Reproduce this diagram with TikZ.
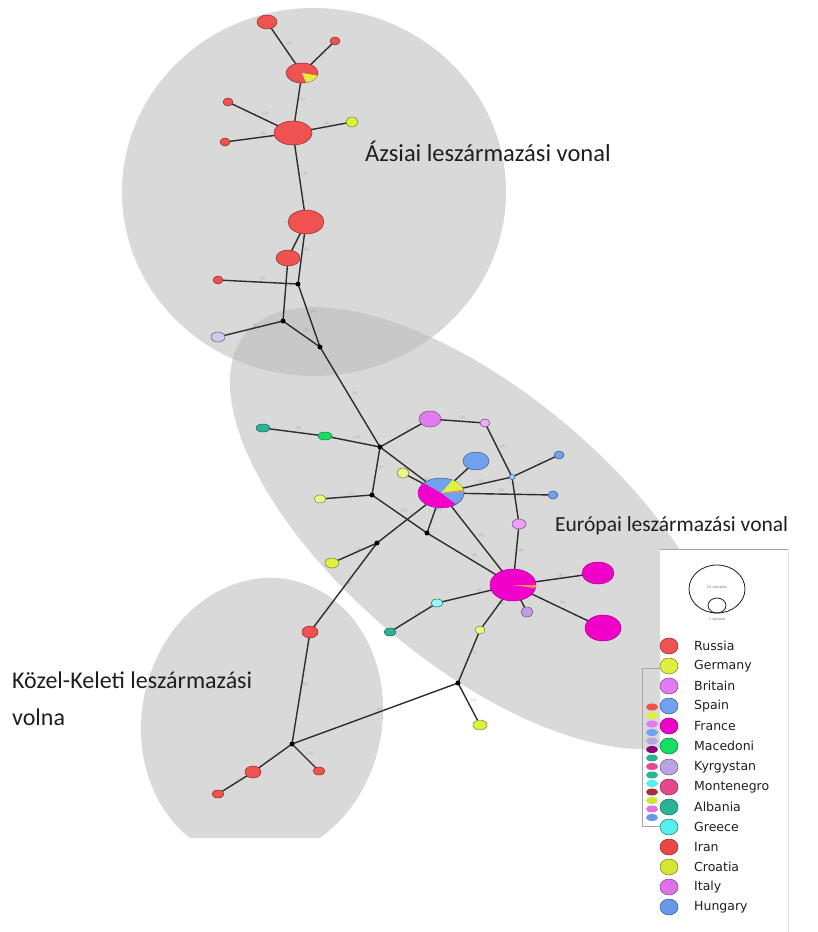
\documentclass[tikz,border=0pt]{standalone}
\usepackage{fontspec}
\newfontfamily\regfont{Carlito}
\newfontfamily\legfont{DejaVu Sans}
\definecolor{russia}{RGB}{240,82,82}
\definecolor{germany}{RGB}{222,240,64}
\definecolor{britain}{RGB}{226,122,240}
\definecolor{spain}{RGB}{112,162,240}
\definecolor{france}{RGB}{240,0,200}
\definecolor{macedoni}{RGB}{20,222,100}
\definecolor{kyrgystan}{RGB}{184,164,226}
\definecolor{montenegro}{RGB}{230,72,140}
\definecolor{albania}{RGB}{42,180,150}
\definecolor{greece}{RGB}{84,240,240}
\definecolor{iran}{RGB}{236,70,70}
\definecolor{croatia}{RGB}{212,230,52}
\definecolor{italy}{RGB}{222,112,232}
\definecolor{hungary}{RGB}{104,152,232}
\definecolor{slice}{RGB}{240,140,90}
\definecolor{regiongray}{RGB}{186,186,186}
\definecolor{edgegray}{RGB}{45,45,45}
\definecolor{labelgray}{RGB}{120,120,120}
\definecolor{textgray}{RGB}{30,30,30}
\begin{document}
\begin{tikzpicture}[x=1pt, y=-1pt, line join=round, line cap=round,
		region/.style={fill=regiongray, fill opacity=0.55},
		edge/.style={draw=edgegray, line width=1.4pt},
		hap/.style={line width=0.5pt},
		lb/.style={font=\fontsize{3.5}{4}\selectfont, text=labelgray, midway, above right, inner sep=1pt},
		reg/.style={font=\regfont\fontsize{24}{28}\selectfont, text=textgray, anchor=base west, inner sep=0pt},
		leg/.style={font=\legfont\fontsize{12.5}{14}\selectfont, text=textgray, anchor=west, inner sep=0pt},
		tiny/.style={font=\legfont\fontsize{3.5}{4}\selectfont, text=labelgray, inner sep=0pt}]
				\useasboundingbox (0,0) rectangle (818,932);
				% lineage regions
				\begin{scope}
					\clip (0,0) rectangle (818,837);
					\fill[region] (314,192) ellipse (192 and 184);
					\fill[region, rotate around={-40:(478,528)}] (478,528) ellipse (303 and 136);
					\fill[region, rotate around={-12:(262,719)}] (262,719) ellipse (120 and 142);
				\end{scope}
				
				\path
				% asian part
				(267,22) coordinate (R1)
				(335,41) coordinate (R2)
				(302,73) coordinate (R3)
				(228,102) coordinate (R4)
				(225,142) coordinate (R5)
				(293,133) coordinate (R6)
				(352,122) coordinate (Y1)
				(306,222) coordinate (R7)
				(288,258) coordinate (R8)
				(218,280) coordinate (R9)
				(298,284) coordinate (M1)
				(283,321) coordinate (M2)
				(320,347) coordinate (M3)
				(218,337) coordinate (K1)
				% european part
				(380,447) coordinate (M4)
				(263,428) coordinate (G1)
				(325,436) coordinate (G2)
				(430,419) coordinate (B1)
				(485,423) coordinate (B2)
				(512,477) coordinate (Sj)
				(559,455) coordinate (S2)
				(553,495) coordinate (S3)
				(519,524) coordinate (B3)
				(476,461) coordinate (S1)
				(441,493) coordinate (P1)
				(403,473) coordinate (Y2)
				(372,495) coordinate (M5)
				(320,499) coordinate (Y3)
				(427,533) coordinate (M6)
				(377,543) coordinate (M7)
				(332,563) coordinate (Y4)
				(513,585) coordinate (F2)
				(598,573) coordinate (F3)
				(603,628) coordinate (F4)
				(527,612) coordinate (K2)
				(437,603) coordinate (C1)
				(390,632) coordinate (A1)
				(480,630) coordinate (Y5)
				(458,683) coordinate (M8)
				(480,725) coordinate (Y6)
				(310,632) coordinate (R10)
				% near eastern part
				(292,744) coordinate (M9)
				(253,772) coordinate (R11)
				(218,794) coordinate (R12)
				(319,771) coordinate (R13)
				;
				
				\draw[edge] (R1)--node[lb]{(1)}(R3) (R2)--node[lb]{(1)}(R3) (R3)--node[lb]{(1)}(R6)
					(R4)--node[lb]{(1)}(R6) (R5)--node[lb]{(1)}(R6) (Y1)--node[lb]{(1)}(R6)
					(R6)--node[lb]{(1)}(R7) (R7)--(R8) (R7)--node[lb]{(1)}(M1) (R8)--node[lb]{(1)}(M2)
					(M1)--node[lb]{(1)}(R9) (M1)--node[lb]{(1)}(M3) (M2)--node[lb]{(1)}(M3)
					(M2)--node[lb]{(1)}(K1) (M3)--node[lb]{(1)}(M4);
				\draw[edge] (M4)--node[lb]{(1)}(G2)--node[lb]{(1)}(G1) (M4)--node[lb]{(1)}(B1)--node[lb]{(1)}(B2)
					(B2)--node[lb]{(1)}(Sj)--(B3)--node[lb]{(1)}(F2) (M4)--node[lb]{(1)}(M5) (M4)--(P1)--node[lb]{(1)}(F2)
					(P1)--(S1) (P1)--node[lb]{(1)}(Y2) (P1)--node[lb]{(1)}(Sj)--node[lb]{(1)}(S2) (P1)--node[lb]{(1)}(S3)
					(M5)--node[lb]{(1)}(Y3) (M5)--node[lb]{(1)}(M6)--node[lb]{(1)}(F2) (M6)--node[lb]{(1)}(P1)
					(P1)--node[lb]{(1)}(M7)--node[lb]{(1)}(Y4) (M7)--node[lb]{(1)}(R10)
					(F2)--node[lb]{(1)}(F3) (F2)--node[lb]{(1)}(F4) (F2)--(K2) (F2)--node[lb]{(1)}(C1)--node[lb]{(1)}(A1)
					(F2)--node[lb]{(1)}(Y5)--node[lb]{(1)}(M8)--node[lb]{(1)}(Y6) (M8)--node[lb]{(1)}(M9);
				\draw[edge] (R10)--node[lb]{(1)}(M9) (M9)--node[lb]{(1)}(R11)--node[lb]{(1)}(R12) (M9)--node[lb]{(1)}(R13);
				
				% haplotypes
				\filldraw[hap, fill=russia, draw=russia!55!black] (R1) ellipse (10 and 7);
				\filldraw[hap, fill=russia, draw=russia!55!black] (R2) ellipse (5 and 4);
				\filldraw[hap, fill=russia, draw=russia!55!black] (R3) ellipse (16 and 10);
				\fill[germany] (R3) -- ++(15:16 and 10) arc[start angle=15, end angle=75, x radius=16, y radius=10] -- cycle;
				\filldraw[hap, fill=russia, draw=russia!55!black] (R4) ellipse (5 and 4);
				\filldraw[hap, fill=russia, draw=russia!55!black] (R5) ellipse (5 and 4);
				\filldraw[hap, fill=russia, draw=russia!55!black] (R6) ellipse (19 and 12);
				\filldraw[hap, fill=germany, draw=germany!55!black] (Y1) ellipse (6 and 5);
				\filldraw[hap, fill=russia, draw=russia!55!black] (R7) ellipse (18 and 12);
				\filldraw[hap, fill=russia, draw=russia!55!black] (R8) ellipse (12 and 8);
				\filldraw[hap, fill=russia, draw=russia!55!black] (R9) ellipse (5 and 4);
				\filldraw[hap, fill=kyrgystan!60!white, draw=kyrgystan!55!black] (K1) ellipse (7 and 5);
				
				\filldraw[hap, fill=albania, draw=albania!55!black] (G1) ellipse (7 and 4);
				\filldraw[hap, fill=macedoni, draw=macedoni!55!black] (G2) ellipse (7 and 4);
				\filldraw[hap, fill=britain, draw=britain!55!black] (B1) ellipse (11 and 8);
				\filldraw[hap, fill=britain!60!white, draw=britain!55!black] (B2) ellipse (5 and 4);
				\filldraw[hap, fill=spain!60!white, draw=spain!55!black] (Sj) ellipse (3 and 2.5);
				\filldraw[hap, fill=spain, draw=spain!55!black] (S2) ellipse (5 and 4);
				\filldraw[hap, fill=spain, draw=spain!55!black] (S3) ellipse (5 and 4);
				\filldraw[hap, fill=britain!70!white, draw=britain!55!black] (B3) ellipse (7 and 5);
				\filldraw[hap, fill=spain, draw=spain!55!black] (S1) ellipse (13 and 9);
				\filldraw[hap, fill=spain, draw=spain!55!black] (P1) ellipse (23 and 15);
				\fill[france] (P1) -- ++(49:23 and 15) arc[start angle=49, end angle=221, x radius=23, y radius=15] -- cycle;
				\fill[germany] (P1) -- ++(300:23 and 15) arc[start angle=300, end angle=348, x radius=23, y radius=15] -- cycle;
				\fill[slice] (P1) -- ++(348:23 and 15) arc[start angle=348, end angle=356, x radius=23, y radius=15] -- cycle;
				\filldraw[hap, fill=germany!60!white, draw=germany!55!black] (Y2) ellipse (6 and 5);
				\filldraw[hap, fill=germany!60!white, draw=germany!55!black] (Y3) ellipse (6 and 4);
				\filldraw[hap, fill=germany, draw=germany!55!black] (Y4) ellipse (7 and 5);
				\filldraw[hap, fill=france, draw=france!70!black] (F2) ellipse (23 and 16);
				\fill[slice] (F2) -- ++(2:23 and 16) arc[start angle=2, end angle=12, x radius=23, y radius=16] -- cycle;
				\fill[germany] (F2) -- ++(0:23 and 16) arc[start angle=0, end angle=2, x radius=23, y radius=16] -- cycle;
				\filldraw[hap, fill=france, draw=france!70!black] (F3) ellipse (16 and 11);
				\filldraw[hap, fill=france, draw=france!70!black] (F4) ellipse (18 and 13);
				\filldraw[hap, fill=kyrgystan!80!britain, draw=kyrgystan!55!black] (K2) ellipse (6 and 5);
				\filldraw[hap, fill=greece!60!white, draw=greece!45!black] (C1) ellipse (6 and 4);
				\filldraw[hap, fill=albania, draw=albania!55!black] (A1) ellipse (6 and 4);
				\filldraw[hap, fill=germany!60!white, draw=germany!55!black] (Y5) ellipse (5 and 4);
				\filldraw[hap, fill=germany, draw=germany!55!black] (Y6) ellipse (7 and 5);
				\filldraw[hap, fill=russia, draw=russia!55!black] (R10) ellipse (8 and 6);
				
				\filldraw[hap, fill=russia, draw=russia!55!black] (R11) ellipse (8 and 6);
				\filldraw[hap, fill=russia, draw=russia!55!black] (R12) ellipse (6 and 4);
				\filldraw[hap, fill=russia, draw=russia!55!black] (R13) ellipse (6 and 4);
				
				% median vectors
				\fill (M1) circle (2.5); 
				\fill (M2) circle (2.5); 
				\fill (M3) circle (2.5); 
				\fill (M4) circle (2.5); 
				\fill (M5) circle (2.5); 
				\fill (M6) circle (2.5); 
				\fill (M7) circle (2.5); 
				\fill (M8) circle (2.5); 
				\fill (M9) circle (2.5); 
				
				\node[reg, font=\regfont\fontsize{24.5}{28}\selectfont] (asia) at (365,161) {Ázsiai leszármazási vonal};
				\node[reg, font=\regfont\fontsize{21.5}{26}\selectfont] (europe) at (555,531) {Európai leszármazási vonal};
				\node[reg] (neareast) at (12,688) {Közel-Keleti leszármazási};
				\node[reg] (volna) at (12,725) {volna};
				
				% legend
				\draw[gray!70] (660,668) -- (642,668) -- (642,826) -- (660,826);
				\fill[russia] (652,707) ellipse (6 and 3.5);
				\fill[germany] (652,715.5) ellipse (6 and 3.5);
				\fill[britain] (652,724) ellipse (6 and 3.5);
				\fill[spain] (652,732.5) ellipse (6 and 3.5);
				\fill[kyrgystan] (652,741) ellipse (6 and 3.5);
				\fill[france!60!black] (652,749.5) ellipse (6 and 3.5);
				\fill[albania] (652,758) ellipse (6 and 3.5);
				\fill[montenegro] (652,766.5) ellipse (6 and 3.5);
				\fill[albania] (652,775) ellipse (6 and 3.5);
				\fill[greece] (652,783.5) ellipse (6 and 3.5);
				\fill[iran!70!black] (652,792) ellipse (6 and 3.5);
				\fill[croatia] (652,800.5) ellipse (6 and 3.5);
				\fill[italy] (652,809) ellipse (6 and 3.5);
				\fill[hungary] (652,817.5) ellipse (6 and 3.5);
				
				\fill[white] (660,549) rectangle (818,932);
				\draw[gray!70, line width=0.8pt] (660,549) -- (788,549);
				\draw[gray!25] (788,549) -- (788,932);
				\draw[textgray, line width=0.8pt] (717,589) ellipse (28 and 24);
				\draw[textgray, line width=0.8pt] (717,605.5) ellipse (9 and 7.5);
				\node[tiny] (ten) at (717,588) {10 samples};
				\node[tiny] (one) at (717,620) {1 sample};
				
				\filldraw[hap, fill=russia, draw=russia!55!black] (669,646) ellipse (9 and 8);
				\node[leg] (lrussia) at (694,646) {Russia};
				\filldraw[hap, fill=germany, draw=germany!55!black] (669,666) ellipse (9 and 8);
				\node[leg] (lgermany) at (694,666) {Germany};
				\filldraw[hap, fill=britain, draw=britain!55!black] (669,686) ellipse (9 and 8);
				\node[leg] (lbritain) at (694,686) {Britain};
				\filldraw[hap, fill=spain, draw=spain!55!black] (669,706) ellipse (9 and 8);
				\node[leg] (lspain) at (694,706) {Spain};
				\filldraw[hap, fill=france, draw=france!55!black] (669,726) ellipse (9 and 8);
				\node[leg] (lfrance) at (694,726) {France};
				\filldraw[hap, fill=macedoni, draw=macedoni!55!black] (669,746) ellipse (9 and 8);
				\node[leg] (lmacedoni) at (694,746) {Macedoni};
				\filldraw[hap, fill=kyrgystan, draw=kyrgystan!55!black] (669,767) ellipse (9 and 8);
				\node[leg] (lkyrgystan) at (694,767) {Kyrgystan};
				\filldraw[hap, fill=montenegro, draw=montenegro!55!black] (669,787) ellipse (9 and 8);
				\node[leg] (lmontenegro) at (694,787) {Montenegro};
				\filldraw[hap, fill=albania, draw=albania!55!black] (669,807) ellipse (9 and 8);
				\node[leg] (lalbania) at (694,807) {Albania};
				\filldraw[hap, fill=greece, draw=greece!45!black] (669,827) ellipse (9 and 8);
				\node[leg] (lgreece) at (694,827) {Greece};
				\filldraw[hap, fill=iran, draw=iran!55!black] (669,847) ellipse (9 and 8);
				\node[leg] (liran) at (694,847) {Iran};
				\filldraw[hap, fill=croatia, draw=croatia!55!black] (669,867) ellipse (9 and 8);
				\node[leg] (lcroatia) at (694,867) {Croatia};
				\filldraw[hap, fill=italy, draw=italy!55!black] (669,887) ellipse (9 and 8);
				\node[leg] (litaly) at (694,887) {Italy};
				\filldraw[hap, fill=hungary, draw=hungary!55!black] (669,907) ellipse (9 and 8);
				\node[leg] (lhungary) at (694,907) {Hungary};
		\end{tikzpicture}
\end{document}
